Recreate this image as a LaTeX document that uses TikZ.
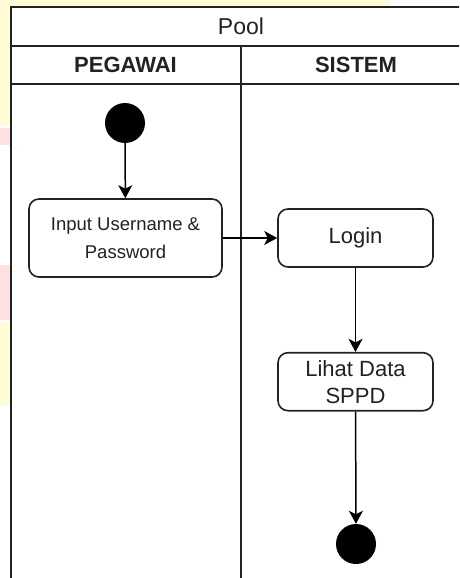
\documentclass[tikz,border=0pt]{standalone}
\usepackage{fontspec}
\setmainfont{Liberation Sans}
\usetikzlibrary{arrows.meta}
\definecolor{paleyellow}{RGB}{255,252,214}
\definecolor{palepink}{RGB}{255,224,224}
\definecolor{inkgray}{RGB}{34,34,34}
\tikzset{
  poolline/.style={draw=inkgray, line width=2pt},
  actbox/.style={draw=inkgray, line width=1.6pt, rounded corners=10pt, fill=white,
                 align=center, inner sep=0pt, text=inkgray},
  startdot/.style={circle, fill=black, draw=none, minimum size=40pt, inner sep=0pt},
  flow/.style={draw=black, line width=1.5pt, -{Stealth[length=13pt,width=14pt,inset=3.5pt]}},
  headtext/.style={font=\bfseries\fontsize{22}{26}\selectfont, text=inkgray, inner sep=0pt},
}
\begin{document}
\begin{tikzpicture}[x=1pt,y=-1pt]
  \useasboundingbox (0,0) rectangle (459,578);
  % page background behind the pool
  \fill[white] (0,0) rectangle (459,578);
  \fill[paleyellow] (0,0) rectangle (390,7);
  \fill[paleyellow] (0,0) rectangle (11,125);
  \fill[palepink] (0,128) rectangle (11,145);
  \fill[palepink] (0,265) rectangle (11,320);
  \fill[paleyellow] (0,322) rectangle (11,405);
  \clip (0,0) rectangle (459,578);

  % pool with two lanes
  \fill[white] (11,7) rectangle (472,600);
  \draw[poolline] (11,600) -- (11,7) -- (472,7) -- (472,600);
  \draw[poolline] (11,46) -- (472,46);
  \draw[poolline] (11,84) -- (472,84);
  \draw[poolline] (240.5,46) -- (240.5,600);
  \node[font=\fontsize{23}{27}\selectfont, text=inkgray, inner sep=0pt] (pool) at (241,26.5) {Pool};
  \node[headtext] (pegawai) at (125.5,65) {PEGAWAI};
  \node[headtext] (sistem) at (356,65) {SISTEM};

  % activities
  \node[startdot] (start) at (125,123) {};
  \node[actbox, minimum width=193pt, minimum height=78pt,
        font=\fontsize{18.5}{28}\selectfont] (input) at (125.5,238)
        {Input Username \&\\Password};
  \node[actbox, minimum width=155pt, minimum height=58pt,
        font=\fontsize{22}{26}\selectfont] (login) at (355.5,238) {Login};
  \node[actbox, minimum width=155pt, minimum height=58pt,
        font=\fontsize{22}{27}\selectfont] (lihat) at (355.5,381.7) {Lihat Data\\SPPD};
  \node[startdot] (end) at (356,544) {};

  % control flow
  \draw[flow] (start) -- (input);
  \draw[flow] (input) -- (login);
  \draw[flow] (login) -- (lihat);
  \draw[flow] (lihat) -- (end);
\end{tikzpicture}
\end{document}
